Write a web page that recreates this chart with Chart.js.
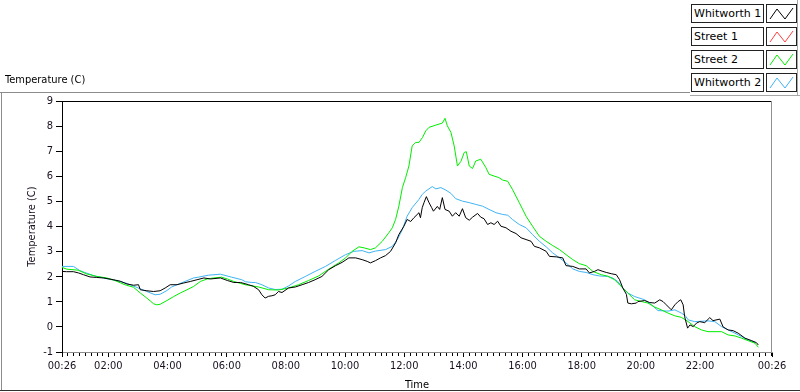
<!DOCTYPE html>
<html><head><meta charset="utf-8">
<script src="https://cdn.jsdelivr.net/npm/chart.js@4.4.1/dist/chart.umd.min.js"></script>
<style>
html,body{margin:0;padding:0;background:#fff;}
#wrap{position:relative;width:800px;height:392px;overflow:hidden;background:#fff;}
#c{position:absolute;left:0;top:0;}
#ptitle{position:absolute;left:5px;top:73px;font:11px 'DejaVu Sans Condensed','DejaVu Sans',sans-serif;color:#000;white-space:nowrap;}
.lb{position:absolute;left:691px;width:69px;height:17px;border:1px solid #222;background:#fff;font:11px 'DejaVu Sans',sans-serif;line-height:17px;padding-left:2px;box-sizing:content-box;color:#000;white-space:nowrap;}
.ic{position:absolute;left:766px;width:29px;height:17px;border:1px solid #222;background:#fff;}
.ic svg{display:block;}
</style></head><body>
<div id="wrap">
<canvas id="c" width="800" height="392"></canvas>
<div id="ptitle">Temperature (C)</div>
<div id="legend"></div>
</div>
<script>
// ---- data (hours since midnight, temperature in C) ----
const seriesNames = ['Whitworth 1', 'Street 1', 'Street 2', 'Whitworth 2'];
const seriesColors = ['#000000', '#ff4040', '#00ee00', '#40b4f4'];

const w1Hours = [0.43,0.59,0.82,0.99,1.16,1.38,1.61,1.83,2.17,2.40,2.63,2.85,3.02,3.08,3.30,3.53,3.75,3.92,4.09,4.32,4.55,4.77,5.00,5.23,5.45,5.79,6.02,6.24,6.47,6.74,6.90,7.08,7.19,7.30,7.42,7.53,7.64,7.75,7.87,8.09,8.32,8.55,8.77,8.99,9.22,9.45,9.68,9.90,10.13,10.36,10.58,10.75,10.86,11.03,11.20,11.37,11.54,11.71,11.82,11.99,12.10,12.22,12.33,12.50,12.55,12.61,12.67,12.75,12.84,12.93,12.99,13.12,13.20,13.29,13.38,13.52,13.63,13.74,13.86,13.97,14.08,14.20,14.31,14.48,14.59,14.70,14.82,14.93,15.04,15.16,15.27,15.44,15.61,15.78,15.95,16.12,16.29,16.40,16.57,16.80,16.91,17.14,17.36,17.47,17.70,17.92,18.15,18.26,18.43,18.55,18.72,18.83,19.00,19.17,19.28,19.39,19.51,19.56,19.68,19.85,19.90,20.13,20.30,20.47,20.64,20.75,20.86,21.03,21.15,21.26,21.35,21.43,21.48,21.58,21.66,21.77,21.88,21.99,22.16,22.33,22.44,22.67,22.78,22.95,23.12,23.29,23.52,23.75,23.91,23.97];
const w1Temp  = [2.21,2.20,2.20,2.15,2.08,1.99,1.97,1.95,1.88,1.82,1.71,1.66,1.68,1.48,1.44,1.41,1.44,1.55,1.68,1.68,1.75,1.81,1.88,1.95,1.91,1.95,1.85,1.77,1.77,1.68,1.62,1.48,1.28,1.15,1.22,1.24,1.28,1.41,1.37,1.55,1.59,1.68,1.77,1.88,2.01,2.28,2.44,2.57,2.75,2.75,2.68,2.61,2.55,2.64,2.75,2.84,3.01,3.35,3.68,4.01,4.28,4.20,4.35,4.55,4.35,4.75,4.95,5.19,4.95,4.75,4.61,4.80,4.68,5.15,4.68,4.61,4.41,4.55,4.41,4.71,4.35,4.25,4.37,4.52,4.37,4.31,4.08,4.15,4.08,4.21,4.01,3.95,3.81,3.72,3.55,3.48,3.41,3.21,3.15,3.01,2.81,2.79,2.75,2.44,2.41,2.31,2.31,2.15,2.21,2.28,2.21,2.17,2.12,2.08,1.88,1.55,1.30,0.95,0.92,0.95,1.01,1.05,0.97,0.95,1.08,1.01,0.88,0.68,0.88,1.01,1.08,0.88,0.41,-0.05,0.08,0.01,0.15,0.21,0.17,0.37,0.25,0.31,0.00,-0.12,-0.15,-0.25,-0.45,-0.55,-0.63,-0.72];

const s1Hours = [];
const s1Temp  = [];

const s2Hours = [0.43,0.60,0.98,1.27,1.61,1.95,2.22,2.56,2.85,3.08,3.30,3.53,3.64,3.75,3.98,4.21,4.43,4.66,4.88,5.11,5.34,5.56,5.83,6.02,6.24,6.63,7.08,7.42,7.75,8.09,8.43,8.77,9.11,9.45,9.79,10.02,10.24,10.47,10.64,10.86,11.03,11.26,11.48,11.60,11.71,11.82,11.94,12.05,12.16,12.27,12.39,12.50,12.62,12.73,12.84,13.07,13.29,13.38,13.46,13.58,13.69,13.80,13.92,14.03,14.10,14.20,14.31,14.42,14.59,14.76,14.87,15.04,15.20,15.33,15.50,15.66,15.89,16.12,16.34,16.57,16.80,17.02,17.25,17.47,17.70,17.92,18.15,18.38,18.66,18.88,19.11,19.34,19.56,19.79,20.02,20.24,20.47,20.69,20.92,21.15,21.37,21.60,21.82,22.05,22.27,22.73,22.95,23.18,23.41,23.63,23.86,23.97];
const s2Temp  = [2.37,2.30,2.26,2.11,2.01,1.95,1.85,1.68,1.58,1.35,1.15,0.92,0.88,0.90,1.05,1.21,1.35,1.48,1.61,1.81,1.91,1.95,1.98,1.91,1.81,1.68,1.59,1.48,1.47,1.55,1.68,1.85,2.03,2.30,2.55,2.75,3.01,3.19,3.15,3.08,3.15,3.41,3.75,3.95,4.28,4.81,5.55,5.95,6.41,7.21,7.35,7.35,7.55,7.81,7.95,8.04,8.12,8.31,8.01,7.75,7.21,6.41,6.60,6.95,6.98,6.41,6.31,6.61,6.68,6.35,6.08,6.01,5.95,5.85,5.80,5.48,4.95,4.41,4.01,3.61,3.41,3.24,3.08,2.88,2.68,2.52,2.44,2.21,2.08,2.02,1.88,1.61,1.35,1.08,1.01,0.95,0.79,0.68,0.55,0.44,0.38,0.21,0.01,-0.12,-0.19,-0.19,-0.32,-0.36,-0.45,-0.55,-0.65,-0.81];

const w2Hours = [0.43,0.82,1.04,1.20,1.54,1.99,2.40,2.63,2.97,3.30,3.58,3.75,3.98,4.14,4.40,4.59,4.88,5.04,5.38,5.79,6.17,6.51,6.63,6.85,6.97,7.19,7.42,7.64,7.87,8.09,8.32,8.66,8.99,9.34,9.68,10.02,10.30,10.58,10.81,11.03,11.37,11.60,11.77,11.94,12.10,12.27,12.50,12.61,12.73,12.95,13.07,13.24,13.41,13.58,13.74,13.97,14.20,14.42,14.65,14.87,15.10,15.33,15.50,15.66,15.89,16.12,16.34,16.57,16.80,17.02,17.25,17.47,17.70,17.92,18.15,18.38,18.60,18.88,19.05,19.22,19.39,19.56,19.79,20.13,20.36,20.58,20.92,21.15,21.37,21.50,21.60,21.82,22.27,22.50,22.73,22.95,23.18,23.41,23.63,23.86];
const w2Temp  = [2.41,2.41,2.24,2.17,2.03,1.91,1.81,1.73,1.57,1.41,1.28,1.30,1.45,1.59,1.72,1.81,1.95,1.98,2.06,2.10,1.98,1.88,1.80,1.77,1.77,1.68,1.55,1.49,1.50,1.63,1.81,2.01,2.21,2.41,2.65,2.88,3.01,3.04,2.95,3.02,3.08,3.21,3.48,3.88,4.41,4.75,5.08,5.28,5.41,5.59,5.50,5.55,5.45,5.32,5.11,5.01,4.95,4.88,4.81,4.68,4.55,4.48,4.45,4.28,4.08,3.95,3.68,3.41,3.19,2.95,2.75,2.55,2.31,2.21,2.17,2.08,2.03,2.01,1.95,1.81,1.55,1.35,1.21,1.08,0.88,0.65,0.63,0.68,0.55,0.45,0.28,0.21,0.24,0.21,0.01,-0.12,-0.25,-0.39,-0.52,-0.62];

const xTickHours  = [26/60, 2, 4, 6, 8, 10, 12, 14, 16, 18, 20, 22, 24, 24 + 26/60];
const xTickLabels = ['00:26','02:00','04:00','06:00','08:00','10:00','12:00','14:00','16:00','18:00','20:00','22:00','','00:26'];
const yMin = -1, yMax = 9, yStep = 1;

// ---- legend (HTML) ----
const legend = document.getElementById('legend');
seriesNames.forEach((name, i) => {
  const top = 4 + i * 23;
  const lb = document.createElement('div');
  lb.className = 'lb'; lb.style.top = top + 'px'; lb.textContent = name;
  const ic = document.createElement('div');
  ic.className = 'ic'; ic.style.top = top + 'px';
  ic.innerHTML = '<svg width="29" height="17"><polyline points="3,14 10,4 18,14 26,3" fill="none" stroke="' + seriesColors[i] + '" stroke-width="1"/></svg>';
  legend.appendChild(lb); legend.appendChild(ic);
});

// ---- chart ----
const pts = (hs, ts) => hs.map((h, i) => ({x: h, y: ts[i]}));
const allData = [pts(w1Hours, w1Temp), pts(s1Hours, s1Temp), pts(s2Hours, s2Temp), pts(w2Hours, w2Temp)];

const FONT = {family: "'DejaVu Sans Condensed','DejaVu Sans',sans-serif", size: 11};

const framePlugin = {
  id: 'frame',
  beforeDraw(chart) {
    const ctx = chart.ctx;
    const line = (x1, y1, x2, y2) => { ctx.beginPath(); ctx.moveTo(x1, y1); ctx.lineTo(x2, y2); ctx.stroke(); };
    ctx.save();
    ctx.fillStyle = '#fff'; ctx.fillRect(0, 0, chart.width, chart.height);
    ctx.lineWidth = 1;
    ctx.strokeStyle = '#8c8c8c';
    line(0, 92.5, 690, 92.5);
    line(1.5, 92, 1.5, 391);
    ctx.strokeStyle = '#a8a8a8';
    line(690, 95.5, 800, 95.5);
    line(797.5, 0, 797.5, 96);
    ctx.strokeStyle = '#303030';
    line(0, 390.5, 800, 390.5);
    ctx.restore();
  },
  afterDraw(chart) {
    const ctx = chart.ctx;
    const {left, right, top, bottom} = chart.chartArea;
    const line = (x1, y1, x2, y2) => { ctx.beginPath(); ctx.moveTo(x1, y1); ctx.lineTo(x2, y2); ctx.stroke(); };
    ctx.save();
    ctx.lineWidth = 1;
    ctx.strokeStyle = '#000';
    line(left, top + 0.5, right, top + 0.5);
    ctx.strokeStyle = '#909090';
    line(right - 0.5, top, right - 0.5, bottom);
    // minor ticks every 12 minutes
    const xs = chart.scales.x;
    ctx.strokeStyle = '#000';
    for (let k = Math.ceil(xs.min * 5); k <= Math.floor(xs.max * 5); k++) {
      const t = k / 5;
      if (Math.abs(t / 2 - Math.round(t / 2)) < 1e-6) continue;
      const px = Math.round(xs.getPixelForValue(t)) + 0.5;
      line(px, bottom + 1, px, bottom + 4);
    }
    ctx.restore();
  }
};

new Chart(document.getElementById('c'), {
  type: 'line',
  data: {
    datasets: seriesNames.map((name, i) => ({
      label: name,
      data: allData[i],
      borderColor: seriesColors[i],
      backgroundColor: seriesColors[i],
      borderWidth: 1,
      pointRadius: 0,
      tension: 0,
      fill: false
    }))
  },
  options: {
    responsive: false,
    animation: false,
    devicePixelRatio: 1,
    layout: {padding: {top: 101, right: 28, left: 0, bottom: 0}},
    plugins: {legend: {display: false}, tooltip: {enabled: false}},
    scales: {
      x: {
        type: 'linear',
        min: xTickHours[0],
        max: xTickHours[xTickHours.length - 1],
        afterBuildTicks: (s) => { s.ticks = xTickHours.map(v => ({value: v})); },
        afterFit: (s) => { s.height = 40; },
        border: {display: true, color: '#8c8c8c', width: 1},
        grid: {display: true, drawOnChartArea: false, drawTicks: true, tickLength: 5, tickColor: '#000'},
        ticks: {
          autoSkip: false, maxRotation: 0, minRotation: 0, padding: 3,
          color: '#1a1020', font: FONT,
          callback: (v, i) => xTickLabels[i]
        },
        title: {display: true, text: 'Time', color: '#000', font: FONT, padding: {top: 1, bottom: 0}}
      },
      y: {
        min: yMin, max: yMax,
        afterFit: (s) => { s.width = 62; },
        border: {display: true, color: '#000', width: 1},
        grid: {display: true, drawOnChartArea: false, drawTicks: true, tickLength: 6, tickColor: '#000'},
        ticks: {stepSize: yStep, padding: 3, color: '#1a1020', font: FONT},
        title: {display: true, text: 'Temperature (C)', color: '#1a1020', font: FONT, padding: {top: 26, bottom: 0}}
      }
    }
  },
  plugins: [framePlugin]
});
</script>
</body></html>
